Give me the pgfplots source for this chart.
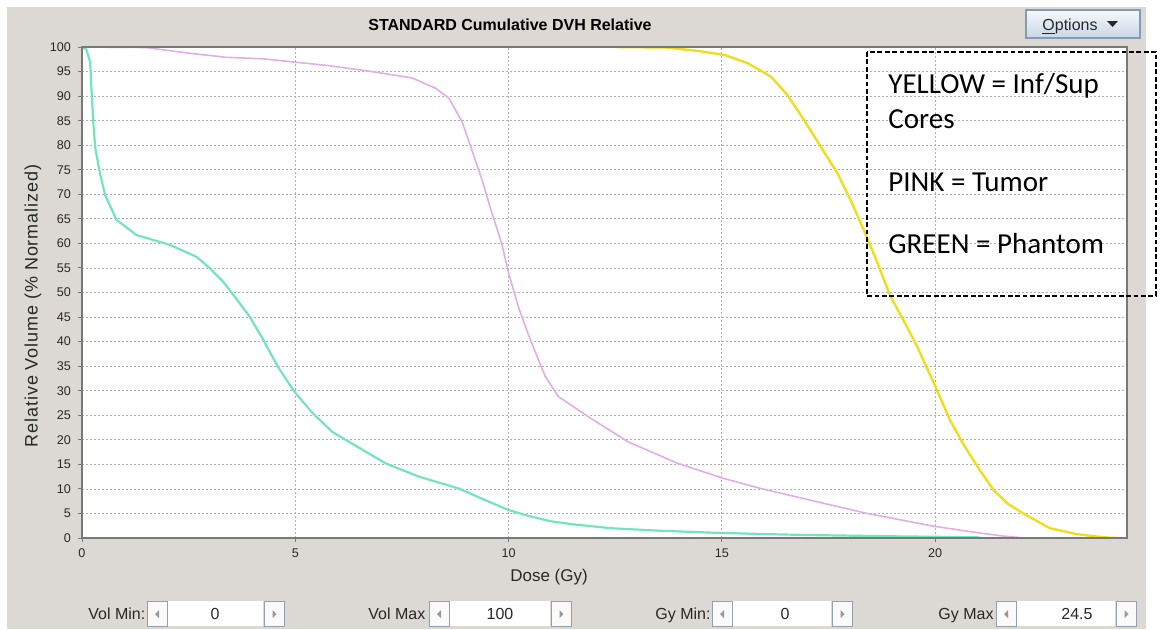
\documentclass[border=0pt]{standalone}
\usepackage{pgfplots}
\pgfplotsset{compat=1.18}
\usepackage{fontspec}
\setmainfont{Liberation Sans}
\newfontfamily\calib{Carlito}
\newfontfamily\ylab[LetterSpace=5]{Liberation Sans}
\definecolor{bggray}{RGB}{220,217,213}
\definecolor{gcol}{RGB}{115,228,190}
\definecolor{pcol}{RGB}{226,174,230}
\definecolor{ycol}{RGB}{238,222,30}
\definecolor{gridc}{RGB}{175,175,175}
\definecolor{axc}{RGB}{120,120,120}
\definecolor{txt}{RGB}{40,40,40}
\definecolor{btnb}{RGB}{150,160,172}
\definecolor{optb}{RGB}{127,157,185}

\newcommand{\ctrl}[9]{%
  \node[anchor=base west, inner sep=0, font=\fontsize{8}{9}\selectfont, text=txt] at (#1,619) {#2};
  \fill[white] (#4,601) rectangle (#5,626);
  \draw[btnb, fill=white!96!gray, line width=0.5pt] (#3,601) rectangle (#4,626);
  \draw[btnb, fill=white!96!gray, line width=0.5pt] ({#5+1},601) rectangle (#6,626);
  \fill[gray!80] ({(#3+#4)/2+2},610) -- ({(#3+#4)/2+2},618) -- ({(#3+#4)/2-2},614) -- cycle;
  \fill[gray!80] ({(#5+#6)/2-1},610) -- ({(#5+#6)/2-1},618) -- ({(#5+#6)/2+3},614) -- cycle;
  \node[anchor=base, inner sep=0, font=\fontsize{8}{9}\selectfont, text=txt] at (#8,619) {#7};
}

\begin{document}
\begin{tikzpicture}
\begin{scope}[x=0.5pt,y=-0.5pt]
\path[use as bounding box] (0,0) rectangle (1160,629);
\fill[white] (0,0) rectangle (1160,629);
\fill[bggray] (7,7) rectangle (1146,629);
\node[font=\bfseries\fontsize{8}{9}\selectfont, text=black] at (510,25) {STANDARD Cumulative DVH Relative};
% options button
\shade[top color={rgb,255:red,246;green,249;blue,252}, bottom color={rgb,255:red,200;green,214;blue,230}] (1026,10) rectangle (1140,38);
\draw[optb, line width=0.6pt] (1026,10) rectangle (1140,38);
\node[anchor=base west, inner sep=0, font=\fontsize{8}{9}\selectfont, text=txt] at (1042,30) {\underline{O}ptions};
\fill[txt] (1107,21) -- (1118,21) -- (1112.5,27) -- cycle;
% axis labels
\node[rotate=90, font=\ylab\fontsize{9}{10}\selectfont, text=txt] at (33,306) {Relative Volume (\% Normalized)};
\node[font=\fontsize{8.5}{10}\selectfont, text=txt] at (549,577) {Dose (Gy)};
% bottom controls
\ctrl{88}{Vol Min:}{147}{167}{263}{284}{0}{215}{}
\ctrl{368}{Vol Max}{429}{449}{550}{571}{100}{500}{}
\ctrl{655}{Gy Min:}{712}{732}{831}{852}{0}{785}{}
\ctrl{938}{Gy Max}{996}{1016}{1115}{1136}{24.5}{1077}{}
\end{scope}

\begin{axis}[
  at={(41pt,-269pt)}, anchor=south west, scale only axis,
  width=522.5pt, height=245.5pt,
  xmin=0, xmax=24.5, ymin=0, ymax=100,
  xtick={0,5,10,15,20}, ytick={0,5,...,100},
  grid=major,
  major grid style={gridc, dash pattern=on 1pt off 1pt, line width=0.4pt},
  axis background/.style={fill=white},
  axis line style={axc, line width=0.6pt},
  tick style={axc, line width=0.5pt},
  tick align=outside, major tick length=2pt,
  xtick pos=bottom, ytick pos=left,
  tick label style={font=\fontsize{6.3}{7}\selectfont, text=txt},
  /pgf/number format/assume math mode=true,
]
\addplot[gcol, line width=1.1pt] coordinates {
(0,100) (0.1,99.5) (0.19,97.0) (0.23,90) (0.27,84) (0.31,79.5) (0.42,74.3) (0.54,69.9)
(0.81,64.8) (1.28,61.7) (2.06,59.7) (2.68,57.3) (2.99,55.0) (3.3,52.3) (3.55,49.5)
(3.93,45.1) (4.24,40.5) (4.59,34.9) (4.98,29.8) (5.4,25.5) (5.87,21.6) (6.26,19.6)
(7.12,15.2) (7.90,12.5) (8.83,10.1) (9.46,7.7) (10.0,5.7) (10.47,4.5) (11.0,3.4)
(11.5,2.8) (12.4,2.0) (13.5,1.5) (14.75,1.1) (16,0.8) (17.08,0.6) (19,0.35) (20.98,0.15) (21.1,0)
};
\addplot[pcol, line width=0.8pt] coordinates {
(0,100) (1.5,99.9) (2.45,98.8) (3.38,97.9) (4.24,97.6) (5.02,96.9) (5.79,96.2) (6.8,95.0)
(7.74,93.7) (8.29,91.6) (8.6,89.6) (8.91,84.8) (9.14,79.0) (9.38,72.9) (9.61,66.2)
(9.84,60.0) (10.0,54.0) (10.23,47.1) (10.47,41.3) (10.86,32.9) (11.17,28.8) (11.87,24.7)
(12.80,19.6) (13.97,15.2) (15.02,12.2) (15.91,10.1) (17.08,7.7) (18.41,5.0) (19.97,2.4)
(20.98,1.1) (21.6,0.4) (22.1,0)
};
\addplot[ycol, line width=1.2pt] coordinates {
(12.5,100) (13.7,99.9) (14.44,99.2) (15.06,98.4) (15.61,96.7) (16.15,94.0) (16.54,90.2)
(16.93,85.1) (17.32,79.7) (17.71,74.3) (18.02,68.8) (18.33,62.7) (18.65,56) (18.95,49.3)
(19.25,44.5) (19.58,39) (20.01,30.8) (20.35,24.0) (20.67,19.0) (21.05,13.8) (21.37,9.8)
(21.7,7.0) (22.07,5.0) (22.69,2.0) (23.32,0.8) (23.79,0.3) (24.1,0.05) (24.3,0)
};
\draw[axc, line width=0.6pt] (rel axis cs:0,0) rectangle (rel axis cs:1,1);
\end{axis}

\begin{scope}[x=0.5pt,y=-0.5pt]
\draw[black, line width=1pt, dash pattern=on 2.4pt off 1.3pt] (867,52) rectangle (1156,296);
\node[anchor=base west, inner sep=0, font=\calib\fontsize{14.5}{17}\selectfont, text=black] at (888,93) {YELLOW = Inf/Sup};
\node[anchor=base west, inner sep=0, font=\calib\fontsize{14.5}{17}\selectfont, text=black] at (888,128) {Cores};
\node[anchor=base west, inner sep=0, font=\calib\fontsize{14.5}{17}\selectfont, text=black] at (888,191) {PINK = Tumor};
\node[anchor=base west, inner sep=0, font=\calib\fontsize{14.5}{17}\selectfont, text=black] at (888,253) {GREEN = Phantom};
\end{scope}
\end{tikzpicture}
\end{document}
